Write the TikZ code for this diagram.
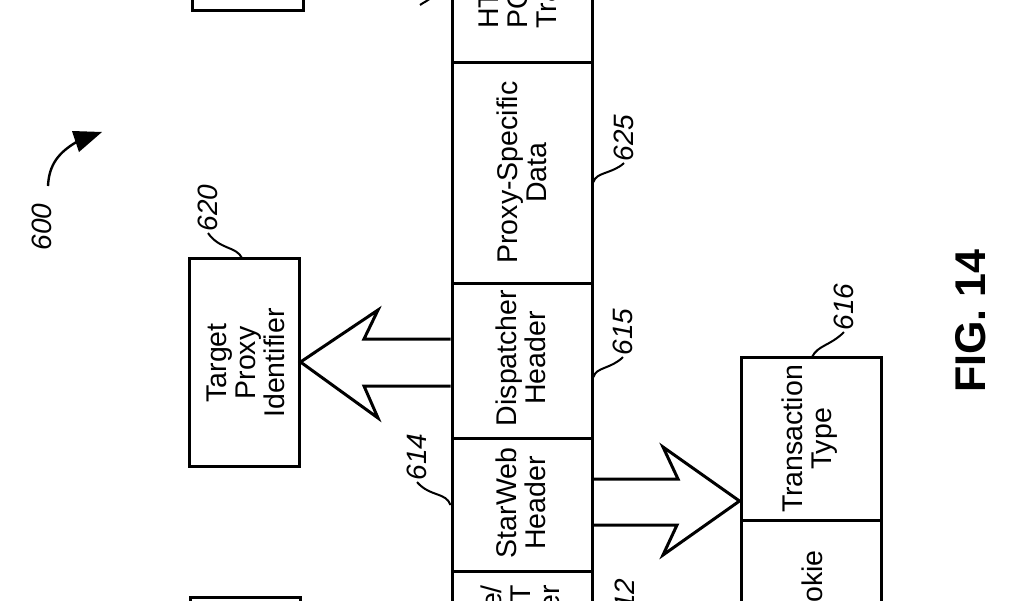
\documentclass[tikz,border=0pt]{standalone}
\usepackage{fontspec}
\setmainfont{Liberation Sans}
\begin{document}
\begin{tikzpicture}[x=1pt,y=-1pt,
  cell/.style={draw, line width=3pt, inner sep=0pt},
  bigarrow/.style={draw, line width=3pt, line join=miter},
  txt/.style={font=\fontsize{28.5}{29}\selectfont, rotate=90, align=center, inner sep=0pt},
  lbl/.style={font=\itshape\fontsize{28}{28}\selectfont, rotate=90, inner sep=1.5pt},
  lead/.style={line width=2pt}]
\useasboundingbox (0,0) rectangle (1024,600);
\clip (0,0) rectangle (1024,600);

% main column cells
\node[cell, minimum width=140, minimum height=212] (c0) at (522,-44) {};
\node[cell, minimum width=140, minimum height=221] (c625) at (522,172.5) {};
\node[cell, minimum width=140, minimum height=155] (c615) at (522,360.5) {};
\node[cell, minimum width=140, minimum height=133] (c614) at (522,504.5) {};
\node[cell, minimum width=140, minimum height=189] (c612) at (522,665.5) {};

% side boxes
\node[cell, minimum width=110, minimum height=208] (tpi) at (244,362) {};
\node[cell, minimum width=140, minimum height=163] (tt) at (811,438.5) {};
\node[cell, minimum width=140, minimum height=180] (ck) at (811,610) {};
\node[cell, minimum width=111, minimum height=210] (tl) at (247.5,-95) {};
\node[cell, minimum width=110, minimum height=203] (bl) at (245,698.5) {};

% texts
\node[txt, align=left, anchor=west] (t0) at (518,29) {HTTP\\POST\\Transaction};
\node[txt] (t625) at (c625.center) {Proxy-Specific\\Data};
\node[txt] (t615) at (521,358) {Dispatcher\\Header};
\node[txt] (t614) at (521,503) {StarWeb\\Header};
\node[txt, align=right, anchor=east] (t612) at (520,585) {Message/\\POST\\Header};
\node[txt] (ttt) at (810,439) {Transaction\\Type};
\node[txt, anchor=east] (tck) at (812,550) {Cookie};
\node[txt] (ttpi) at (246,363) {Target\\Proxy\\Identifier};

% big arrows
\coordinate (tipL) at (tpi.east);
\coordinate (sL1) at (c615.west |- 0,339);
\coordinate (sL2) at (c615.west |- 0,386);
\draw[bigarrow] (sL1) -- (364,339) -- (378,310) -- (tipL) -- (378,418) -- (364,386) -- (sL2);

\coordinate (tipR) at (tt.west |- 0,501);
\coordinate (sR1) at (c614.east |- 0,479);
\coordinate (sR2) at (c614.east |- 0,525);
\draw[bigarrow] (sR1) -- (678,479) -- (663,447) -- (tipR) -- (663,555) -- (677,525) -- (sR2);

% labels
\node[lbl] (l600) at (42,227) {600};
\node[lbl] (l620) at (208,208) {620};
\node[lbl] (l625) at (624,138) {625};
\node[lbl] (l615) at (623,332) {615};
\node[lbl] (l616) at (844,307) {616};
\node[lbl] (l614) at (417,457) {614};
\node[lbl, anchor=east] (l612) at (625,577) {612};

% leaders
\coordinate (a625) at (c625.east |- 0,182);
\draw[lead] (a625) .. controls (596,172) and (612,174) .. (l625.west);
\coordinate (a615) at (c615.east |- 0,377);
\draw[lead] (a615) .. controls (596,367) and (611,369) .. (l615.west);
\coordinate (a616) at (812,357);
\draw[lead] (a616) .. controls (818,345) and (830,346) .. (l616.west);
\coordinate (a620) at (242,258);
\draw[lead] (a620) .. controls (236,246) and (220,250) .. (l620.west);
\coordinate (a614) at (c614.west |- 0,505);
\draw[lead] (a614) .. controls (446,492) and (430,497) .. (l614.west);
\coordinate (a0) at (420,5);
\draw[lead] (a0) .. controls (424,2) and (428,1) .. (433,-4);

% 600 curved arrow
\coordinate (s600) at (48,186);
\draw[line width=2.4pt] (s600) .. controls (49,165) and (58,152) .. (80,140);
\fill (72,131) -- (102,132) -- (79,152) -- cycle;

% figure caption
\node[font=\bfseries\fontsize{43}{43}\selectfont, rotate=90, inner sep=0pt] (fig) at (971,321) {FIG. 14};
\end{tikzpicture}
\end{document}
